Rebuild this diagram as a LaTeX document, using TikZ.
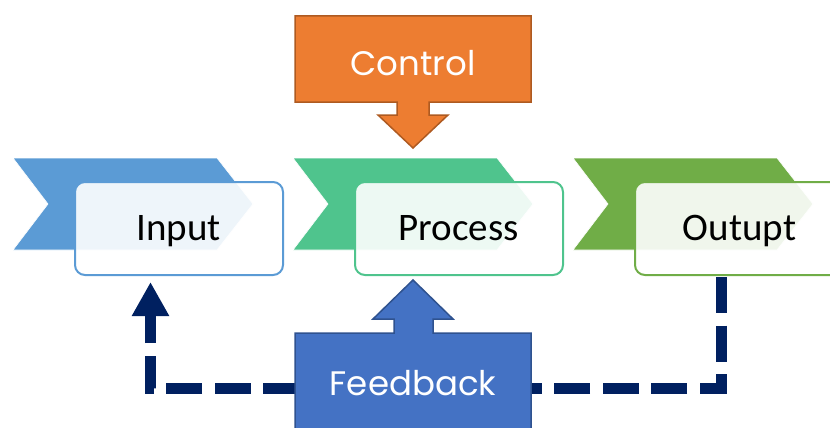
\documentclass[tikz,border=0pt]{standalone}
\usepackage{fontspec}
\usetikzlibrary{arrows.meta}
\newfontfamily\lblfont{Carlito}
\newfontfamily\capfont{Poppins}
\definecolor{chevblue}{HTML}{5B9BD5}
\definecolor{chevgreen}{HTML}{4FC48D}
\definecolor{chevolive}{HTML}{70AD47}
\definecolor{ctlorange}{HTML}{ED7D31}
\definecolor{ctlborder}{HTML}{AE5A21}
\definecolor{fbblue}{HTML}{4472C4}
\definecolor{fbborder}{HTML}{2F528F}
\definecolor{navy}{HTML}{002060}
\tikzset{
  chevron/.style={fill=#1, draw=white, line width=0.6pt, line join=miter},
  stagebox/.style={draw=#1, line width=2pt, fill=white, fill opacity=0.9, rounded corners=10pt,
    minimum width=208pt, minimum height=93pt, inner sep=0pt},
  stagelbl/.style={anchor=base, inner sep=0pt, font=\lblfont\fontsize{39}{44}\selectfont, text=black},
  blocklbl/.style={anchor=base, inner sep=0pt, font=\capfont\fontsize{34}{40}\selectfont, text=white},
  feedline/.style={draw=navy, line width=11pt, line cap=butt, line join=miter, dash pattern=on 36pt off 12.5pt}
}
\begin{document}
\begin{tikzpicture}[x=1pt,y=-1pt]
\useasboundingbox (0,0) rectangle (830,428);
\clip (0,0) rectangle (830,428);
% chevrons
\fill[chevron=chevblue] (13,158) -- (217,158) -- (253,204) -- (217,250) -- (13,250) -- (48,204) -- cycle;
\fill[chevron=chevgreen] (293,158) -- (497,158) -- (533,204) -- (497,250) -- (293,250) -- (328,204) -- cycle;
\fill[chevron=chevolive] (573,158) -- (777,158) -- (813,204) -- (777,250) -- (573,250) -- (608,204) -- cycle;
% feedback line
\coordinate (fbstart) at (721,277);
\coordinate (fbend) at (150.5,282);
\draw[feedline, -{Triangle[width=35pt,length=34pt]}] (fbstart) |- (150.5,388.5) -- (fbend);
% stage boxes
\node[stagebox=chevblue] (input) at (179,228.5) {};
\node[stagebox=chevgreen] (process) at (459,228.5) {};
\node[stagebox=chevolive] (output) at (739,228.5) {};
\node[stagelbl] (inputlbl) at (178.5,240) {Input};
\node[stagelbl] (processlbl) at (458.5,240) {Process};
\node[stagelbl] (outputlbl) at (739.5,240) {Outupt};
% control block arrow
\filldraw[fill=ctlorange, draw=ctlborder, line width=1.5pt, line join=miter]
  (295,16) -- (531,16) -- (531,102) -- (429,102) -- (429,115) -- (448,115) -- (413,148)
  -- (378,115) -- (397,115) -- (397,102) -- (295,102) -- cycle;
\node[blocklbl] (control) at (413,75) {Control};
% feedback block arrow
\filldraw[fill=fbblue, draw=fbborder, line width=1.5pt, line join=miter]
  (295,440) -- (295,333) -- (394,333) -- (394,319) -- (373,319) -- (413,280) -- (453,319)
  -- (433,319) -- (433,333) -- (531,333) -- (531,440) -- cycle;
\node[blocklbl] (feedback) at (413,395) {Feedback};
\end{tikzpicture}
\end{document}
